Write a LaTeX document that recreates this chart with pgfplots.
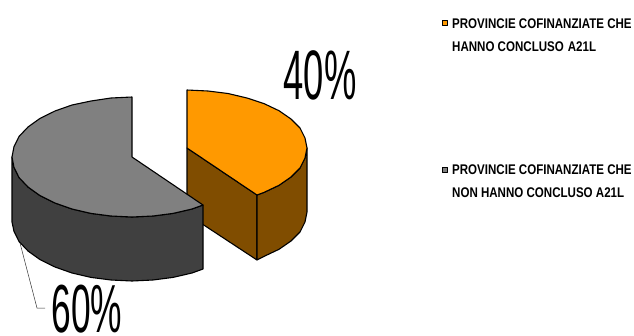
\documentclass[border=0pt]{standalone}
\usepackage{pgfplots}
\pgfplotsset{compat=1.18}
\usepackage{fontspec}
\setmainfont{Liberation Sans}
\definecolor{orangetop}{HTML}{FF9900}
\definecolor{orangeside}{HTML}{804D00}
\definecolor{graytop}{HTML}{808080}
\definecolor{grayside}{HTML}{404040}
\newcommand{\legtext}[1]{\scalebox{0.825}[1]{\fontsize{14}{14}\selectfont\bfseries #1}}
\begin{document}
\begin{tikzpicture}
\useasboundingbox (0,0) rectangle (634pt,335pt);
\begin{axis}[
  at={(0,0)}, anchor=south west,
  hide axis, scale only axis, width=634pt, height=335pt,
  xmin=0, xmax=634, ymin=0, ymax=335, y dir=reverse, clip=false,
  every axis plot/.append style={line width=1.1pt, draw=black, mark=none, line join=round},
]
% orange slice: inner side
\addplot[fill=orangeside] coordinates {(187,148) (257,195) (257,260) (187,214)} --cycle;
% orange outer side
\addplot[fill=orangeside] coordinates {(257,195) (264,192.4) (279,185.3) (291,177) (300,168) (305,158) (307,148) (307,212) (305,222) (300,232) (291,241) (279,249.3) (264,256.4) (257,260)} --cycle;
% orange top
\addplot[fill=orangetop] coordinates {(187,90) (208,91) (228,93.5) (247,98) (264,103.6) (279,110.7) (291,119) (300,128) (305,138) (307,148) (305,158) (300,168) (291,177) (279,185.3) (264,192.4) (257,195) (187,148)} --cycle;
% gray side
\addplot[fill=grayside] coordinates {(12,157) (14,167.4) (19,177.5) (28,187) (40,195.6) (55,203) (72,209) (91,213.4) (111,216) (132,217) (153,216) (173,213.4) (192,209) (203,205) (203,269) (192,273) (173,277.4) (153,280) (132,281) (111,280) (91,277.4) (72,273) (55,267) (40,259.6) (28,251) (19,241.5) (14,231.4) (12,222)} --cycle;
% gray top
\addplot[fill=graytop] coordinates {(132,97) (111,98) (91,101) (72,105) (55,111) (40,118.4) (28,127) (19,136.5) (14,146.6) (12,157) (14,167.4) (19,177.5) (28,187) (40,195.6) (55,203) (72,209) (91,213.4) (111,216) (132,217) (153,216) (173,213.4) (192,209) (203,205) (132,157)} --cycle;
% leader
\addplot[line width=0.5pt, draw=black!80] coordinates {(20,243) (37,308) (45,308)};
% legend keys
\addplot[only marks, mark=square*, mark size=2.8pt, mark options={fill=orangetop, draw=black, line width=0.7pt}] coordinates {(445,23)};
\addplot[only marks, mark=square*, mark size=2.8pt, mark options={fill=graytop, draw=black, line width=0.7pt}] coordinates {(445,170)};
% labels
\node[anchor=center, inner sep=0pt] at (axis cs:320,75) {\scalebox{0.52}[1]{\fontsize{70}{70}\selectfont 40\%}};
\node[anchor=base, inner sep=0pt] at (axis cs:87,332) {\scalebox{0.52}[1]{\fontsize{68}{68}\selectfont 60\%}};
\node[anchor=west, inner sep=0pt] at (axis cs:452,24) {\legtext{PROVINCIE COFINANZIATE CHE}};
\node[anchor=west, inner sep=0pt] at (axis cs:452,47) {\legtext{HANNO CONCLUSO\ \kern1pt A21L}};
\node[anchor=west, inner sep=0pt] at (axis cs:452,170) {\legtext{PROVINCIE COFINANZIATE CHE}};
\node[anchor=west, inner sep=0pt] at (axis cs:452,193) {\legtext{NON HANNO CONCLUSO A21L}};
\end{axis}
\end{tikzpicture}
\end{document}
